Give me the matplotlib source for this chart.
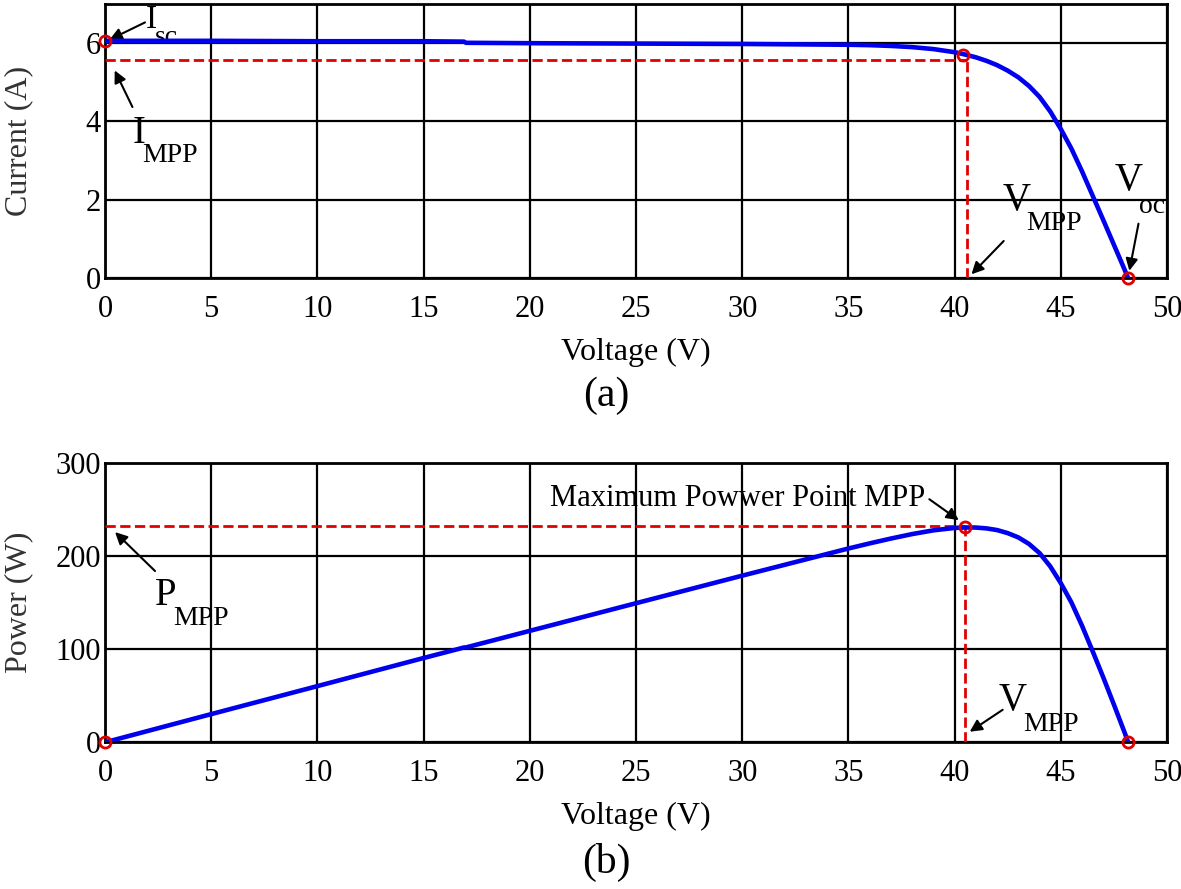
import matplotlib
matplotlib.use("Agg")
import matplotlib.pyplot as plt

# ── Data ────────────────────────────────────────────────────────────────────
volt = [0, 5, 10, 15, 16.9, 17, 20, 25, 30, 35, 36, 37, 38, 39, 39.5, 40,
        40.5, 41, 41.5, 42, 42.5, 43, 43.5, 44, 44.5, 45, 45.5, 46, 46.5,
        47, 47.5, 48, 48.17]
current = [6.05, 6.05, 6.04, 6.04, 6.03, 6.0, 5.99, 5.98, 5.97, 5.95, 5.94,
           5.92, 5.89, 5.84, 5.8, 5.76, 5.7, 5.63, 5.54, 5.43, 5.29, 5.12,
           4.9, 4.62, 4.25, 3.8, 3.3, 2.72, 2.1, 1.48, 0.85, 0.22, 0.0]
power = [0, 30.3, 60.4, 90.6, 101.9, 102, 119.8, 149.5, 179.1, 208.3, 213.8,
         219.0, 223.8, 227.8, 229.1, 230.4, 230.9, 230.8, 229.9, 228.1, 224.8,
         220.2, 213.2, 203.3, 189.1, 171.0, 150.2, 125.1, 97.7, 69.6, 40.4,
         10.6, 0]

isc, voc = 6.05, 48.17
v_mpp_a, i_mpp = 40.6, 5.56
v_mpp_b, p_mpp = 40.5, 233
mpp_i, mpp_p = 5.7, 230.9

# ── Style ──────────────────────────────────────────────────────────────────
plt.rcParams.update({"font.family": "Liberation Serif"})

BLUE = "#0000EE"
RED = "#E00000"
arr = dict(arrowstyle="-|>", color="black", lw=1.5, mutation_scale=18)

fig = plt.figure(figsize=(11.81, 8.89), dpi=100)
ax1 = fig.add_axes([0.0889, 0.687, 0.8993, 0.309])
ax2 = fig.add_axes([0.0889, 0.165, 0.8993, 0.314])


def style(ax, ylim, yticks, ylabel, ylab_x):
    ax.set_xlim(0, 50)
    ax.set_ylim(*ylim)
    ax.set_xticks(range(0, 51, 5))
    ax.set_yticks(yticks)
    ax.grid(True, color="black", lw=1.6)
    ax.tick_params(axis="x", length=0, labelsize=22, pad=12)
    ax.tick_params(axis="y", length=0, labelsize=22, pad=3)
    for s in ax.spines.values():
        s.set_linewidth(2)
    ax.set_xlabel("Voltage (V)", fontsize=23, labelpad=10)
    ax.set_ylabel(ylabel, fontsize=23, color="#333333")
    ax.yaxis.set_label_coords(ylab_x, 0.5)


def sub_label(ax, x, y, main, sub, dx, dy, size=28):
    # letter with a big, well-dropped subscript, as in the reference
    ax.text(x, y, main, fontsize=size, ha="center", va="center")
    ax.annotate(sub, xy=(x, y), xytext=(dx, dy), textcoords="offset points",
                fontsize=20, ha="left", va="center")


# ── (a) I-V ────────────────────────────────────────────────────────────────
style(ax1, (0, 7), [0, 2, 4, 6], "Current (A)", -0.068)
ax1.plot([0, v_mpp_a], [i_mpp, i_mpp], "--", color=RED, lw=2, zorder=3)
ax1.plot([v_mpp_a, v_mpp_a], [0, i_mpp], "--", color=RED, lw=2, zorder=3)
ax1.plot(volt, current, color=BLUE, lw=3.3, zorder=4)
ax1.plot([0, 40.4, voc], [isc, mpp_i, 0], "o", mfc="none", mec=RED,
         ms=8, mew=2, zorder=5, clip_on=False)

ax1.annotate("", xy=(0.1, isc), xytext=(2.0, 6.55), arrowprops=arr)
sub_label(ax1, 2.2, 6.6, "I", "sc", 2, -13, size=24)
ax1.annotate("", xy=(0.4, 5.36), xytext=(1.35, 4.3), arrowprops=arr)
sub_label(ax1, 1.6, 3.69, "I", "MPP", 2, -16)
ax1.annotate("", xy=(40.7, 0.05), xytext=(42.4, 1.0), arrowprops=arr)
sub_label(ax1, 42.9, 1.97, "V", "MPP", 7, -16)
ax1.annotate("", xy=(48.2, 0.12), xytext=(48.68, 1.46), arrowprops=arr)
sub_label(ax1, 48.2, 2.49, "V", "oc", 7, -19)
fig.text(0.5136, 0.555, "(a)", fontsize=30, ha="center", va="center")

# ── (b) P-V ────────────────────────────────────────────────────────────────
style(ax2, (0, 300), [0, 100, 200, 300], "Power (W)", -0.068)
ax2.plot([0, v_mpp_b], [p_mpp, p_mpp], "--", color=RED, lw=2, zorder=3)
ax2.plot([v_mpp_b, v_mpp_b], [0, mpp_p], "--", color=RED, lw=2, zorder=3)
ax2.plot(volt, power, color=BLUE, lw=3.3, zorder=4)
ax2.plot([0, 40.5, voc], [0, mpp_p, 0], "o", mfc="none", mec=RED,
         ms=8, mew=2, zorder=5, clip_on=False)

ax2.annotate("", xy=(40.3, 237), xytext=(38.7, 263), arrowprops=arr)
ax2.text(38.6, 262, "Maximum Powwer Point MPP", fontsize=22, ha="right",
         va="center")
ax2.annotate("", xy=(0.38, 228), xytext=(2.45, 182), arrowprops=arr)
sub_label(ax2, 2.87, 158, "P", "MPP", 5, -17)
ax2.annotate("", xy=(40.6, 9.7), xytext=(42.37, 36.6), arrowprops=arr)
sub_label(ax2, 42.75, 45, "V", "MPP", 7, -17)
fig.text(0.5136, 0.03, "(b)", fontsize=30, ha="center", va="center")

fig.savefig("out.png", dpi=100)
